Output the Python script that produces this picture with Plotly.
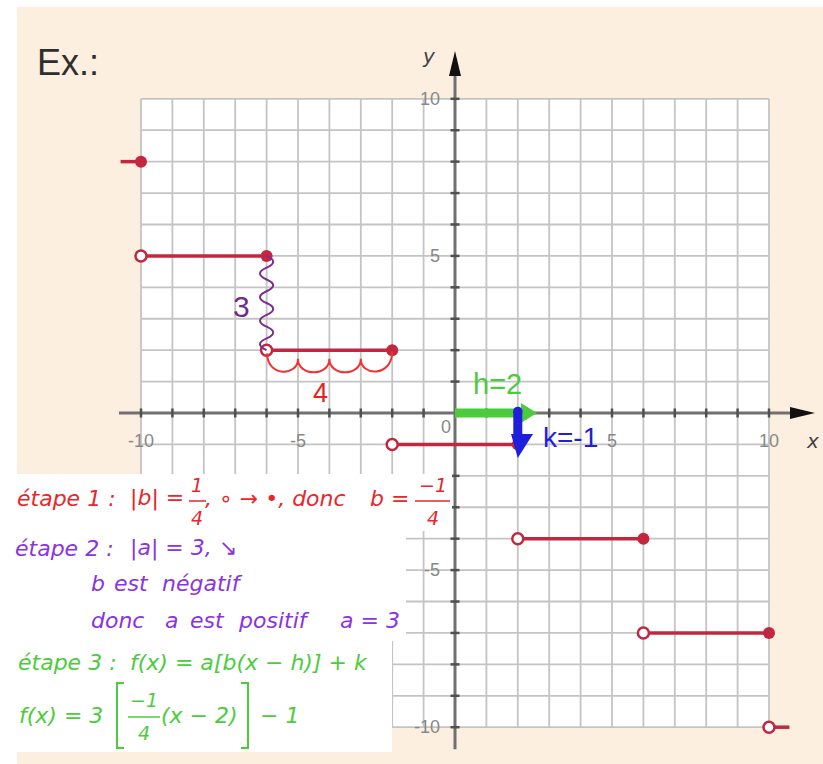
import plotly.graph_objects as go

# ---------------- data ----------------
seg_x_start = [-10, -6, -2, 2, 6]
seg_x_end = [-6, -2, 2, 6, 10]
seg_y = [5, 2, -1, -4, -7]
left_point = (-10, 8)      # filled, with stub to the left
right_point = (10, -10)    # open, with stub to the right
grid_ticks = list(range(-10, 11))
x_tick_labels = {-10: "-10", -5: "-5", 5: "5", 10: "10"}
y_tick_labels = {10: "10", 5: "5", -5: "-5", -10: "-10"}
h_val, k_val = 2, -1

# ---------------- pixel helpers (layout only) ----------------
W, H = 823, 764
X0, Y0 = 455, 413
UX, UY = 31.4, 31.42
def px(p):
    return (p - X0) / UX
def py(p):
    return (Y0 - p) / UY

CRIMSON = "#C2273F"
PEACH = "#FDEFE0"
RED = "#E8262B"
PURPLE = "#8B33E0"
GREEN = "#4CCC3C"
BLUE = "#1E1EDC"
HAND = "DejaVu Sans"

fig = go.Figure()

# step segments
sx, sy = [], []
for a, b, v in zip(seg_x_start, seg_x_end, seg_y):
    sx += [a, b, None]
    sy += [v, v, None]
sx += [left_point[0] - 0.65, left_point[0], None, right_point[0], right_point[0] + 0.65]
sy += [left_point[1], left_point[1], None, right_point[1], right_point[1]]
fig.add_trace(go.Scatter(x=sx, y=sy, mode="lines", line=dict(color=CRIMSON, width=3.5),
                         hoverinfo="skip", showlegend=False))
# closed ends
fx = seg_x_end + [left_point[0]]
fy = seg_y + [left_point[1]]
fig.add_trace(go.Scatter(x=fx, y=fy, mode="markers", cliponaxis=False,
                         marker=dict(color=CRIMSON, size=12, line=dict(width=0)),
                         hoverinfo="skip", showlegend=False))
# open ends
ox = seg_x_start + [right_point[0]]
oy = seg_y + [right_point[1]]
fig.add_trace(go.Scatter(x=ox, y=oy, mode="markers", cliponaxis=False,
                         marker=dict(color="white", size=11, line=dict(color=CRIMSON, width=2.5)),
                         hoverinfo="skip", showlegend=False))

shapes = []
# backgrounds
shapes.append(dict(type="rect", xref="paper", yref="paper", x0=17 / W, x1=1, y0=0, y1=1 - 7 / H,
                   fillcolor=PEACH, line=dict(width=0), layer="below"))
shapes.append(dict(type="rect", xref="x", yref="y", x0=-10, x1=10, y0=-10, y1=10,
                   fillcolor="white", line=dict(width=0), layer="below"))
for t in grid_ticks:
    shapes.append(dict(type="line", x0=t, x1=t, y0=-10, y1=10, line=dict(color="#C4C4C4", width=1.8), layer="below"))
    shapes.append(dict(type="line", x0=-10, x1=10, y0=t, y1=t, line=dict(color="#C4C4C4", width=1.8), layer="below"))
# axes
AX = "#707070"
shapes.append(dict(type="line", x0=-10.7, x1=10.8, y0=0, y1=0, line=dict(color=AX, width=3), layer="below"))
shapes.append(dict(type="line", x0=0, x1=0, y0=-10.7, y1=10.9, line=dict(color=AX, width=3), layer="below"))
tl = 4.5 / UX
for t in grid_ticks:
    if t == 0:
        continue
    shapes.append(dict(type="line", x0=t, x1=t, y0=-tl, y1=tl, line=dict(color="#505050", width=2.5), layer="below"))
    shapes.append(dict(type="line", x0=-tl, x1=tl, y0=t, y1=t, line=dict(color="#505050", width=2.5), layer="below"))
# axis arrowheads
shapes.append(dict(type="path", path=f"M {px(790)} {py(407)} L {px(815)} {py(413)} L {px(790)} {py(419)} Z",
                   fillcolor="#111111", line=dict(width=0), layer="below"))
shapes.append(dict(type="path", path=f"M {px(449)} {py(76)} L {px(455)} {py(51)} L {px(461)} {py(76)} Z",
                   fillcolor="#111111", line=dict(width=0), layer="below"))

# purple wave from (-6,5) to (-6,2)
wx = seg_x_start[1]
y_top, y_bot = seg_y[0], seg_y[1]
n = 8
amp = 0.42
step = (y_top - y_bot) / n
p = f"M {wx} {y_top}"
for i in range(n):
    ya = y_top - i * step
    yb = ya - step
    side = amp if i % 2 == 0 else -amp
    p += f" Q {wx + side} {(ya + yb) / 2} {wx} {yb}"
shapes.append(dict(type="path", path=p, line=dict(color="#7B2C8E", width=2)))

# red scallops under (-6,2)->(-2,2)
a0, a1, base = seg_x_start[1], seg_x_end[1], seg_y[1]
p = f"M {a0 + 0.02} {base - 0.1}"
cusp = base - 0.27
bot = base - 0.85
for i in range(4):
    xa = a0 + i
    xb = xa + 1
    yb = base - 0.05 if i == 3 else cusp
    p += f" C {xa} {bot} {xb} {bot} {xb} {yb}"
shapes.append(dict(type="path", path=p, line=dict(color="#EE3535", width=2)))

# green h arrow and blue k arrow
shapes.append(dict(type="line", x0=0, x1=h_val + 0.15, y0=0, y1=0, line=dict(color=GREEN, width=9)))
shapes.append(dict(type="path", path=f"M {h_val + 0.1} {py(403)} L {px(537)} 0 L {h_val + 0.1} {py(423)} Z",
                   fillcolor=GREEN, line=dict(width=0)))
shapes.append(dict(type="line", x0=h_val, x1=h_val, y0=0.05, y1=py(436), line=dict(color=BLUE, width=9)))
shapes.append(dict(type="circle", x0=h_val - 0.15, x1=h_val + 0.15, y0=-0.1, y1=0.2,
                   fillcolor=BLUE, line=dict(width=0)))
shapes.append(dict(type="path", path=f"M {px(511)} {py(434)} L {h_val} {py(458)} L {px(533)} {py(434)} Z",
                   fillcolor=BLUE, line=dict(width=0)))

# white text box (three steps)
for (l, r, t, b) in [(0, 452, 474, 531), (0, 406, 530, 641), (0, 392, 640, 752)]:
    shapes.append(dict(type="rect", x0=px(l), x1=px(r), y0=py(b), y1=py(t),
                       fillcolor="white", line=dict(width=0), layer="above"))
# fraction bars
for (l, r, yy, c) in [(189, 206, 501, RED), (415, 450, 501, RED), (128, 160, 717, GREEN)]:
    shapes.append(dict(type="line", x0=px(l), x1=px(r), y0=py(yy), y1=py(yy), line=dict(color=c, width=1.5), layer="above"))
# big brackets in last line
shapes.append(dict(type="path", path=f"M {px(124)} {py(683)} L {px(117)} {py(683)} L {px(117)} {py(748)} L {px(124)} {py(748)}",
                   line=dict(color=GREEN, width=2), layer="above"))
shapes.append(dict(type="path", path=f"M {px(241)} {py(683)} L {px(248)} {py(683)} L {px(248)} {py(748)} L {px(241)} {py(748)}",
                   line=dict(color=GREEN, width=2), layer="above"))

ann = []
def txt(x, y, s, size, color, family="Liberation Sans", xanchor="center", italic=False):
    ann.append(dict(x=px(x), y=py(y), text=(f"<i>{s}</i>" if italic else s), showarrow=False,
                    xanchor=xanchor, yanchor="middle",
                    font=dict(size=size, color=color, family=family)))

txt(35, 62, "Ex.:", 36, "#2E2E2E", xanchor="left")
txt(429, 56, "y", 20, "#444444", family="DejaVu Sans", italic=True)
txt(812, 441, "x", 20, "#444444", family="DejaVu Sans", italic=True)
TICKF = dict(size=18, color="#888888", family="Liberation Sans")
for v, s in x_tick_labels.items():
    ann.append(dict(x=v, y=py(441), text=s, showarrow=False, xanchor="center", yanchor="middle", font=TICKF))
ann.append(dict(x=px(446), y=py(427), text="0", showarrow=False, xanchor="center", yanchor="middle", font=TICKF))
for v, s in y_tick_labels.items():
    ann.append(dict(x=px(442), y=v, text=s, showarrow=False, xanchor="right", yanchor="middle", font=TICKF))

txt(241, 306, "3", 30, "#6E2C8C", family="Liberation Sans")
txt(320, 393, "4", 27, "#E82020", family="Liberation Sans")
txt(497, 384, f"h={h_val}", 29, GREEN, family="Liberation Sans")
txt(570, 437, f"k={k_val}", 28, BLUE, family="Liberation Sans")

# explanation lines: (left x, y centre, text, colour)
FS = 22
FF = 19
pieces = [
    (15, 498, "étape 1 :", RED), (128, 498, "|b| =", RED),
    (203, 498, ", ∘ → •, donc", RED), (368, 498, "b =", RED),
    (13, 548, "étape 2 :", PURPLE), (128, 548, "|a| = 3, ↘", PURPLE),
    (89, 583, "b", PURPLE), (112, 583, "est", PURPLE), (160, 583, "négatif", PURPLE),
    (89, 620, "donc", PURPLE), (163, 620, "a", PURPLE), (188, 620, "est", PURPLE),
    (236, 620, "positif", PURPLE), (338, 620, "a = 3", PURPLE),
    (16, 662, "étape 3 :", GREEN), (128, 662, "f(x) = a[b(x − h)] + k", GREEN),
    (17, 715, "f(x) = 3", GREEN), (159, 715, "(x − 2)", GREEN), (258, 715, "− 1", GREEN),
]
for x, y, s, c in pieces:
    txt(x, y, s, FS, c, HAND, "left", True)
fracs = [
    (197, 485, 518, "1", "4", RED), (433, 485, 518, "−1", "4", RED), (144, 700, 733, "−1", "4", GREEN),
]
for x, yn, yd, n_, d_, c in fracs:
    txt(x, yn, n_, FF, c, HAND, "center", True)
    txt(x, yd, d_, FF, c, HAND, "center", True)

fig.update_layout(
    width=W, height=H, autosize=False,
    margin=dict(l=0, r=0, t=0, b=0, pad=0),
    paper_bgcolor="white", plot_bgcolor="rgba(0,0,0,0)",
    xaxis=dict(range=[px(0), px(W)], visible=False, fixedrange=True),
    yaxis=dict(range=[py(H), py(0)], visible=False, fixedrange=True),
    shapes=shapes, annotations=ann, showlegend=False,
)
fig.write_html("out.html", config={"displayModeBar": False},
               post_script="document.body.style.margin='0';")
